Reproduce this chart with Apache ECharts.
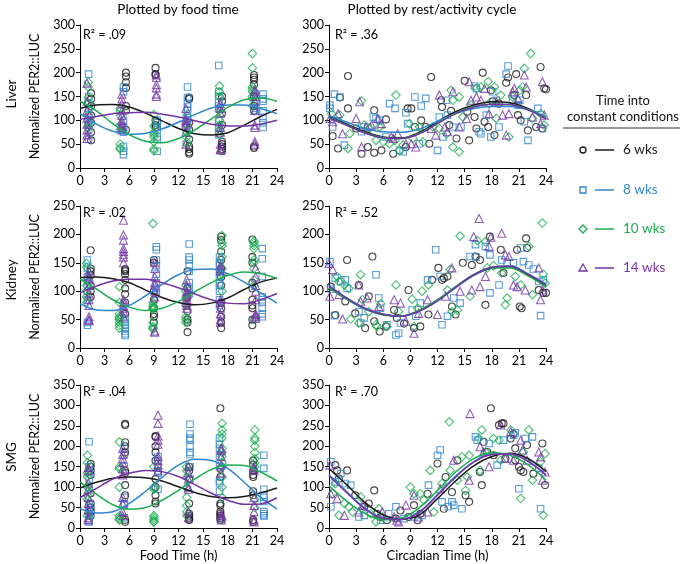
<!DOCTYPE html>
<html><head><meta charset="utf-8">
<script src="https://cdn.jsdelivr.net/npm/echarts@6/dist/echarts.min.js"></script>
<style>html,body{margin:0;padding:0;background:#fff}#c{width:680px;height:564px}</style>
</head><body><div id="c"></div>
<script>
// ---------- series meta ----------
const seriesNames = ['6 wks', '8 wks', '10 wks', '14 wks'];
const xTicks = [0, 3, 6, 9, 12, 15, 18, 21, 24];
const fitHours = [0, 2, 4, 6, 8, 10, 12, 14, 16, 18, 20, 22, 24];
const r2Values = ['.09', '.36', '.02', '.52', '.04', '.70'];
const organs = ['Liver', 'Kidney', 'SMG'];
const yMaxima = [300, 250, 350];

// ---------- LIVER, food time: [column x, [y values]] ----------
const liverFoodBlack = [[1.35,[157,145,130,110,95,75,58]],[5.6,[200,192,180,168,130,120,80]],[9.2,[210,197,195,100,90,85]],[13.3,[148,145,95,80,60,45,40,33,30]],[17.3,[150,140,115,90,55,50,45,40,35]],[21.2,[195,190,185,175,150,130,120,45,42]]];
const liverFoodBlue = [[1.05,[197,150,135,125,115,100,90,80,60]],[5.3,[170,160,100,85,75,45,35,28]],[9.4,[100,95,85,80,65,60,35]],[13.1,[170,148,135,128,120,105,100,85]],[16.9,[215,160,150,138,130,125,100,85,70]],[21.4,[155,140,125,120]],[22.3,[155,145,140,120,105,95,85]]];
const liverFoodGreen = [[1.0,[180,170,148,135,110,95,85]],[4.9,[125,120,110,90,80,50,42,40]],[9.0,[112,88,75,70,65,55,40,36]],[13.0,[110,90,75,65,55,50]],[17.0,[172,160,150,120,100,90,80,70]],[21.0,[240,210,170,165,160,150,145,130]]];
const liverFoodPurple = [[0.85,[178,140,120,105,92,80,70,62]],[5.1,[155,145,135,120,110,100,95,90,85,80]],[9.3,[195,190,175,168,155,150]],[12.9,[125,105,100,95,90,75,50]],[17.1,[135,125,115,85,75,50,40,38]],[21.3,[165,160,150,140,120,90,85,55,50]]];
const liverFoodFitBlack = [125,132,133,128,115,99,83,72,69,74,90,108,123];
const liverFoodFitBlue = [114,92,77,71,73,82,96,112,126,132,132,125,114];
const liverFoodFitGreen = [140,120,93,70,56,53,62,80,103,127,143,147,140];
const liverFoodFitPurple = [102,108,114,116,117,113,107,99,92,88,88,92,100];

// ---------- LIVER, circadian time: [x, y] ----------
const liverCircBlack = [[0.4,67],[1.0,41],[1.2,148],[2.1,125],[2.1,193],[3.0,83],[3.6,30],[4.3,44],[5.0,121],[5.0,32],[5.8,37],[6.3,102],[7.1,30],[8.7,125],[9.1,125],[8.5,44],[9.5,86],[10.2,100],[10.7,86],[11.3,191],[11.1,51],[12.4,142],[12.5,128],[13.3,90],[13.5,120],[14.1,62],[15.0,183],[15.3,118],[15.5,58],[16.1,107],[16.3,83],[17.0,200],[17.2,97],[17.6,86],[17.9,163],[18.1,140],[18.3,69],[18.8,135],[19.6,179],[19.8,190],[20.7,197],[20.5,153],[20.9,111],[21.2,100],[21.8,153],[22.0,79],[22.9,86],[23.6,83],[23.8,167],[23.4,212],[24,165]];
const liverCircBlue = [[0.1,132],[0.1,125],[0.6,155],[1.2,149],[1.7,48],[0.4,86],[3.6,76],[3.6,86],[4.3,86],[4.9,107],[5.2,104],[5.6,100],[6.3,65],[6.7,135],[7.3,125],[7.8,37],[8.2,34],[8.5,116],[8.7,93],[9.5,149],[10.2,130],[10.7,146],[10.0,51],[12.0,37],[12.2,107],[12.6,65],[13.0,142],[13.1,111],[13.7,86],[14.6,86],[16.1,172],[16.3,167],[16.6,76],[16.8,72],[17.4,111],[17.9,65],[18.1,160],[18.5,142],[18.8,86],[19.6,197],[19.8,214],[20.3,142],[20.9,132],[21.1,142],[21.6,97],[22.0,58],[23.1,125],[23.6,83]];
const liverCircGreen = [[0.3,114],[1.2,111],[2.1,41],[2.3,72],[3.6,141],[3.9,90],[4.5,83],[5.2,58],[5.6,86],[6.0,55],[6.7,51],[7.4,153],[7.3,58],[7.8,37],[8.2,48],[8.9,93],[9.3,62],[10.0,86],[10.4,55],[11.5,86],[12.2,83],[13.0,72],[13.5,163],[13.7,142],[13.7,44],[14.4,149],[14.4,34],[14.8,107],[15.7,132],[16.3,167],[16.8,170],[17.6,181],[17.7,135],[18.3,170],[18.5,104],[19.0,153],[19.9,65],[20.3,149],[21.1,163],[21.4,170],[21.6,209],[22.3,240],[22.5,104],[23.4,114],[23.8,90]];
const liverCircPurple = [[0.1,104],[0.4,97],[1.0,114],[1.5,72],[3.0,104],[3.4,139],[3.6,44],[4.1,86],[4.7,90],[5.4,104],[5.8,93],[6.9,65],[7.1,62],[7.6,72],[8.5,51],[9.1,51],[9.6,44],[11.3,83],[11.8,69],[12.2,153],[12.8,86],[13.1,76],[13.7,160],[14.4,86],[15.2,104],[15.5,181],[15.7,142],[16.3,149],[16.8,142],[17.2,167],[17.7,114],[18.5,139],[19.2,111],[19.6,69],[19.9,114],[20.3,160],[20.5,167],[20.9,146],[21.6,195],[21.8,170],[22.5,107],[23.6,181],[23.8,111],[23.4,93]];
const liverCircFitBlack = [108,92,76,65,63,75,97,118,132,139,137,125,104];
const liverCircFitBlue = [110,96,83,76,75,82,98,114,125,129,129,122,108];
const liverCircFitGreen = [106,90,74,64,62,73,94,115,129,134,133,123,104];
const liverCircFitPurple = [105,89,73,63,62,72,93,114,128,134,133,122,103];

// ---------- KIDNEY, food time ----------
const kidneyFoodBlack = [[1.3,[172,140,135,128,110,100,90]],[5.5,[139,137,135,130,120,105,95,80,60]],[9.0,[155,150,100,85,70,60,55,45]],[13.1,[135,105,90,65,50,45,28]],[17.2,[196,190,170,155,140,125,110,80,70,55,45,35]],[21.0,[191,160,150,115,105,85,75,70,50,40]]];
const kidneyFoodBlue = [[0.9,[155,140,125,115,100,85,45,40]],[5.5,[50,45,40,35,30,25,22]],[9.3,[178,173,155,145,130,115,105,95]],[13.3,[183,160,155,145,135,115,105,95]],[17.0,[160,150,145,135,125,115,110,100,85,75]],[22.2,[175,157,126,90,85,80,70,60,55]]];
const kidneyFoodGreen = [[0.8,[149,142,120,110,100,90,80]],[4.8,[108,80,60,55,52,50,45,40,35]],[8.9,[219,80,75,72,70,68,45,38,35,33]],[12.9,[110,100,90,75,55,50,45]],[17.3,[198,185,180,160,140,130,100]],[21.2,[188,185,180,175,155,150,140,120,110,50]]];
const kidneyFoodPurple = [[1.1,[135,125,120,110,95,85,75,55,50,48]],[5.3,[225,199,190,175,170,165,160,150,85,80,75,70,65,55]],[9.1,[150,140,125,115,110,100,90,30,28]],[13.0,[120,110,100,95,90,85,80,75,70]],[17.1,[145,140,135,85,80,70,60,50,45]],[21.4,[140,125,110,100,85,60,58,55,52]]];
const kidneyFoodFitBlack = [124,125,122,115,102,89,80,76,79,88,103,116,123];
const kidneyFoodFitBlue = [78,67,66,75,92,112,129,138,139,131,116,97,79];
const kidneyFoodFitGreen = [121,104,85,72,66,70,82,99,115,128,134,131,122];
const kidneyFoodFitPurple = [97,109,118,121,121,115,106,95,85,79,78,85,96];

// ---------- KIDNEY, circadian time ----------
const kidneyCircBlack = [[0.2,108],[0.7,58],[2.0,155],[1.8,82],[2.9,61],[3.3,111],[4.0,35],[4.4,91],[4.8,161],[5.0,47],[5.6,29],[6.3,38],[7.2,67],[7.5,53],[8.3,43],[8.8,102],[9.4,35],[10.1,38],[11.0,59],[11.4,120],[12.1,141],[12.5,120],[12.7,123],[13.1,126],[13.6,73],[14.0,59],[14.8,150],[15.8,146],[16.2,161],[16.7,155],[17.3,76],[17.8,196],[19.0,173],[19.3,132],[20.8,173],[21.8,193],[21.1,73],[21.3,70],[21.9,176],[23.2,102],[23.7,97],[24,97]];
const kidneyCircBlue = [[0.1,152],[0.2,104],[0.7,123],[1.3,117],[1.8,120],[2.0,105],[0.6,57],[3.3,64],[3.5,44],[3.9,53],[5.2,129],[5.5,88],[5.7,70],[6.4,41],[7.4,23],[7.7,26],[7.9,44],[9.2,67],[9.6,56],[10.1,79],[10.9,120],[11.8,173],[12.3,126],[12.5,41],[13.1,56],[13.8,88],[14.5,79],[15.6,161],[16.2,182],[16.3,160],[17.3,179],[17.8,164],[17.8,97],[18.8,111],[19.1,155],[19.7,149],[20.4,150],[21.2,176],[21.5,152],[22.1,146],[22.6,139],[23.2,117],[23.4,57],[23.7,120]];
const kidneyCircGreen = [[0.9,126],[1.1,117],[1.7,111],[2.2,105],[2.4,51],[3.5,129],[3.7,85],[3.3,44],[4.4,64],[5.2,41],[5.3,38],[5.7,78],[6.4,38],[7.4,111],[7.7,64],[9.2,86],[9.4,38],[9.8,70],[10.3,100],[11.0,111],[13.1,102],[13.4,138],[13.6,64],[14.2,67],[14.5,197],[15.6,91],[16.4,189],[17.3,187],[17.5,141],[18.2,145],[19.1,132],[19.5,76],[19.7,88],[20.6,126],[21.2,111],[22.1,179],[22.5,94],[23.6,220],[23.7,130],[23.9,114]];
const kidneyCircPurple = [[0.0,149],[0.1,91],[0.4,138],[1.1,94],[1.5,51],[3.3,111],[3.5,82],[4.2,88],[5.5,73],[7.2,85],[7.9,79],[8.5,47],[9.4,26],[9.9,61],[10.9,85],[12.0,59],[12.9,91],[13.6,141],[14.5,100],[15.8,102],[16.0,196],[16.6,228],[16.7,108],[17.3,126],[17.7,179],[17.9,195],[19.1,202],[19.5,164],[19.9,161],[20.4,111],[20.8,108],[21.7,102],[23.2,141],[23.4,85],[23.6,102]];
const kidneyCircFitBlack = [108,86,69,59,56,66,84,107,128,141,143,129,110];
const kidneyCircFitBlue = [110,88,70,60,56,65,83,106,128,142,145,131,112];
const kidneyCircFitGreen = [106,85,68,58,56,67,85,108,129,141,141,127,108];
const kidneyCircFitPurple = [109,87,69,59,56,65,83,107,129,142,144,130,111];

// ---------- SMG, food time ----------
const smgFoodBlack = [[1.3,[157,150,140,130,85,60,50,40,30]],[5.5,[255,252,210,200,185,140,135,105,80,20,15]],[9.2,[225,223,200,185,165,120,100,80,65,60]],[13.3,[150,140,120,60,35,30,25,20,20]],[17.1,[293,145,125,60,55,40,35,30,25,20]],[21.1,[165,155,140,130,125,90,80,20,15]]];
const smgFoodBlue = [[1.1,[211,150,140,120,100,60,50,40,30,20,15]],[5.4,[195,180,150,75,60,55,25]],[9.5,[175,165,150,140,135,95]],[13.4,[254,230,220,215,200,185,180,150,120]],[17.0,[220,205,195,175,150,115,110,90]],[22.4,[178,146,95,80,75,65,40,35,30,30]]];
const smgFoodGreen = [[0.9,[178,160,135,125,100,80,70,30]],[4.8,[211,150,145,100,30,25,20,20]],[9.0,[150,100,95,30,25,20,15,15]],[13.0,[150,140,125,100,75,55,40,30]],[17.3,[256,240,230,220,195,185,175,160,150,125,100,75,20]],[21.3,[240,220,215,200,185,170,160,150,70,50]]];
const smgFoodPurple = [[1.0,[148,140,110,95,75,60,45,25,20]],[5.2,[195,180,170,160,145,130,75,60,40,30]],[9.5,[276,256,225,215,205,175,165,155,140]],[13.2,[150,135,120,100,95,40,25]],[17.2,[195,190,175,155,135,35,30,25,20]],[21.2,[150,145,140,75,55,40,20,15]]];
const smgFoodFitBlack = [98,112,122,125,123,115,101,87,77,74,77,86,98];
const smgFoodFitBlue = [47,37,40,60,90,124,154,168,165,146,112,75,47];
const smgFoodFitGreen = [113,83,57,46,50,68,92,120,143,154,153,137,115];
const smgFoodFitPurple = [74,97,120,134,141,138,126,106,85,68,58,59,74];

// ---------- SMG, circadian time ----------
const smgCircBlack = [[0.7,154],[0.9,141],[1.1,121],[2.0,141],[2.9,80],[3.9,52],[4.4,60],[5.0,92],[5.3,35],[5.7,27],[6.4,19],[7.4,23],[7.9,43],[8.8,27],[9.4,56],[9.8,19],[10.1,35],[10.9,84],[12.0,158],[12.9,125],[12.7,47],[13.6,88],[14.2,166],[15.1,80],[15.5,64],[16.7,137],[16.9,105],[17.1,211],[17.5,186],[17.9,293],[18.2,178],[18.8,252],[19.1,256],[19.3,256],[19.5,170],[20.1,219],[20.4,230],[20.6,195],[20.6,166],[21.0,150],[21.2,141],[21.5,137],[21.9,203],[22.6,133],[23.6,207],[23.9,105]];
const smgCircBlue = [[0.2,162],[0.2,52],[0.7,113],[1.3,133],[1.8,109],[2.4,105],[3.3,27],[3.9,31],[5.7,19],[6.6,35],[7.4,52],[8.3,23],[9.4,27],[10.3,31],[11.0,105],[12.0,178],[12.3,191],[12.5,64],[13.2,52],[13.6,64],[13.8,56],[14.7,47],[16.2,223],[16.4,215],[17.7,207],[18.6,154],[19.3,215],[20.4,227],[20.6,233],[21.0,96],[21.7,219],[22.5,223],[23.2,146],[23.4,47]];
const smgCircGreen = [[0.4,84],[0.7,109],[1.1,31],[1.7,60],[2.2,52],[2.6,39],[3.5,76],[4.6,35],[5.2,15],[5.5,47],[5.9,27],[9.0,100],[9.4,84],[10.1,84],[10.5,68],[11.2,141],[11.6,39],[12.5,109],[13.3,260],[13.4,141],[14.2,117],[14.7,174],[15.1,92],[15.3,125],[15.5,178],[16.6,219],[16.7,141],[16.9,240],[17.3,186],[18.2,219],[18.8,215],[19.0,166],[20.1,240],[21.2,72],[21.5,186],[22.1,240],[22.5,117],[23.4,162],[23.7,31],[23.9,182]];
const smgCircPurple = [[0.1,154],[0.2,84],[0.9,72],[1.7,31],[3.3,39],[3.7,56],[5.9,39],[7.2,27],[7.5,19],[7.7,15],[8.5,56],[9.4,80],[9.9,27],[10.9,39],[12.3,96],[13.8,166],[15.5,117],[15.6,280],[16.7,199],[17.1,186],[17.7,150],[19.0,252],[19.5,170],[20.1,236],[20.4,166],[21.2,215],[21.4,191],[21.9,166],[23.2,186],[23.4,174],[23.6,117],[23.9,137]];
const smgCircFitBlack = [145,105,62,32,22,32,72,115,152,175,183,170,138];
const smgCircFitBlue = [130,88,48,24,21,40,82,127,162,181,181,163,130];
const smgCircFitGreen = [103,65,35,20,24,50,92,137,170,185,178,155,117];
const smgCircFitPurple = [128,86,46,23,21,39,80,125,161,180,181,164,129];

// ---------- assemble ----------
const COLORS = ['#1a1a1a', '#2f86d0', '#1aae4f', '#7434a6'];
const SYMBOLS = ['circle', 'rect', 'diamond', 'triangle'];
const SIZES = [7, 6.5, 8.5, 8];
const FONT = 'Lato, "Open Sans", sans-serif';

function flatCols(cols) {
  const out = [];
  cols.forEach(([x, ys]) => ys.forEach(y => out.push([x, y])));
  return out;
}

const panelScatter = [
  [liverFoodBlack, liverFoodBlue, liverFoodGreen, liverFoodPurple].map(flatCols),
  [liverCircBlack, liverCircBlue, liverCircGreen, liverCircPurple],
  [kidneyFoodBlack, kidneyFoodBlue, kidneyFoodGreen, kidneyFoodPurple].map(flatCols),
  [kidneyCircBlack, kidneyCircBlue, kidneyCircGreen, kidneyCircPurple],
  [smgFoodBlack, smgFoodBlue, smgFoodGreen, smgFoodPurple].map(flatCols),
  [smgCircBlack, smgCircBlue, smgCircGreen, smgCircPurple]
];
const panelFits = [
  [liverFoodFitBlack, liverFoodFitBlue, liverFoodFitGreen, liverFoodFitPurple],
  [liverCircFitBlack, liverCircFitBlue, liverCircFitGreen, liverCircFitPurple],
  [kidneyFoodFitBlack, kidneyFoodFitBlue, kidneyFoodFitGreen, kidneyFoodFitPurple],
  [kidneyCircFitBlack, kidneyCircFitBlue, kidneyCircFitGreen, kidneyCircFitPurple],
  [smgFoodFitBlack, smgFoodFitBlue, smgFoodFitGreen, smgFoodFitPurple],
  [smgCircFitBlack, smgCircFitBlue, smgCircFitGreen, smgCircFitPurple]
];

const rowTops = [25, 206, 385];
const rowHeights = [143, 142, 143];
const colLefts = [80, 329];
const colWidths = [197, 217];

const grids = [], xAxes = [], yAxes = [], series = [], graphics = [];
for (let p = 0; p < 6; p++) {
  const row = Math.floor(p / 2), col = p % 2;
  grids.push({left: colLefts[col], top: rowTops[row], width: colWidths[col], height: rowHeights[row], containLabel: false});
  const isBottom = row === 2;
  xAxes.push({
    gridIndex: p, type: 'value', min: 0, max: 24, interval: 3,
    axisLine: {lineStyle: {color: '#000', width: 1}},
    axisTick: {show: true, length: 4, lineStyle: {color: '#000'}},
    axisLabel: {color: '#000', fontSize: 12.5, fontFamily: FONT, margin: 6},
    splitLine: {show: false},
    name: isBottom ? (col === 0 ? 'Food Time (h)' : 'Circadian Time (h)') : '',
    nameLocation: 'middle', nameGap: 21,
    nameTextStyle: {color: '#000', fontSize: 13, fontFamily: FONT}
  });
  yAxes.push({
    gridIndex: p, type: 'value', min: 0, max: yMaxima[row], interval: 50,
    axisLine: {show: true, lineStyle: {color: '#000', width: 1}},
    axisTick: {show: true, length: 4, lineStyle: {color: '#000'}},
    axisLabel: {color: '#000', fontSize: 12.5, fontFamily: FONT, margin: 5},
    splitLine: {show: false},
    name: col === 0 ? 'Normalized PER2::LUC' : '',
    nameLocation: 'middle', nameGap: 39, nameRotate: 90,
    nameTextStyle: {color: '#000', fontSize: 12.5, fontFamily: FONT}
  });
  for (let s = 0; s < 4; s++) {
    series.push({
      type: 'scatter', name: seriesNames[s], xAxisIndex: p, yAxisIndex: p,
      data: panelScatter[p][s], symbol: SYMBOLS[s], symbolSize: SIZES[s],
      itemStyle: {color: 'rgba(0,0,0,0)', borderColor: COLORS[s], borderWidth: 1.1},
      z: 2, silent: true
    });
  }
  for (let s = 0; s < 4; s++) {
    series.push({
      type: 'line', name: seriesNames[s] + ' fit', xAxisIndex: p, yAxisIndex: p,
      data: fitHours.map((h, i) => [h, panelFits[p][s][i]]),
      smooth: 0.35, showSymbol: false, symbol: 'none',
      lineStyle: {color: COLORS[s], width: 1.5}, z: 3, silent: true
    });
  }
  graphics.push({
    type: 'text', left: colLefts[col] + (col === 0 ? 3 : 6), top: rowTops[row] + (row === 0 ? 3 : 0),
    style: {text: 'R² = ' + r2Values[p], fill: '#000', font: '12.5px ' + FONT}
  });
}

// Column titles
graphics.push({type: 'text', x: 178, y: 10, style: {text: 'Plotted by food time', fill: '#000', font: '13.5px ' + FONT, textAlign: 'center', textVerticalAlign: 'middle'}});
graphics.push({type: 'text', x: 432, y: 10, style: {text: 'Plotted by rest/activity cycle', fill: '#000', font: '13.5px ' + FONT, textAlign: 'center', textVerticalAlign: 'middle'}});
// Row labels
const rowLabelY = [94, 280, 457];
organs.forEach((o, i) => {
  graphics.push({type: 'text', x: 12, y: rowLabelY[i], rotation: Math.PI / 2,
    style: {text: o, fill: '#000', font: '13.5px ' + FONT, textAlign: 'center', textVerticalAlign: 'middle'}});
});
// Legend
graphics.push({type: 'text', x: 623, y: 109, style: {text: 'Time into\nconstant conditions', fill: '#111', font: '13px ' + FONT, textAlign: 'center', textVerticalAlign: 'middle', lineHeight: 16}});
graphics.push({type: 'line', shape: {x1: 563, y1: 128, x2: 680, y2: 128}, style: {stroke: '#333', lineWidth: 1}});
const legendY = [150, 190, 229, 268];
const legendShapes = [
  y => ({type: 'circle', shape: {cx: 583, cy: y, r: 3}}),
  y => ({type: 'rect', shape: {x: 580, y: y - 3, width: 6, height: 6}}),
  y => ({type: 'polygon', shape: {points: [[583, y - 4], [587, y], [583, y + 4], [579, y]]}}),
  y => ({type: 'polygon', shape: {points: [[583, y - 4], [587, y + 3], [579, y + 3]]}})
];
for (let s = 0; s < 4; s++) {
  const y = legendY[s];
  const g = legendShapes[s](y);
  g.style = {fill: 'none', stroke: COLORS[s], lineWidth: 1.3};
  graphics.push(g);
  graphics.push({type: 'line', shape: {x1: 595, y1: y, x2: 614, y2: y}, style: {stroke: COLORS[s], lineWidth: 1.5}});
  graphics.push({type: 'text', x: 623, y: y, style: {text: seriesNames[s], fill: COLORS[s], font: '13.5px ' + FONT, textAlign: 'left', textVerticalAlign: 'middle'}});
}

const chart = echarts.init(document.getElementById('c'), null, {renderer: 'canvas'});
chart.setOption({
  animation: false,
  backgroundColor: '#fff',
  grid: grids, xAxis: xAxes, yAxis: yAxes, series: series, graphic: graphics
});
</script></body></html>
